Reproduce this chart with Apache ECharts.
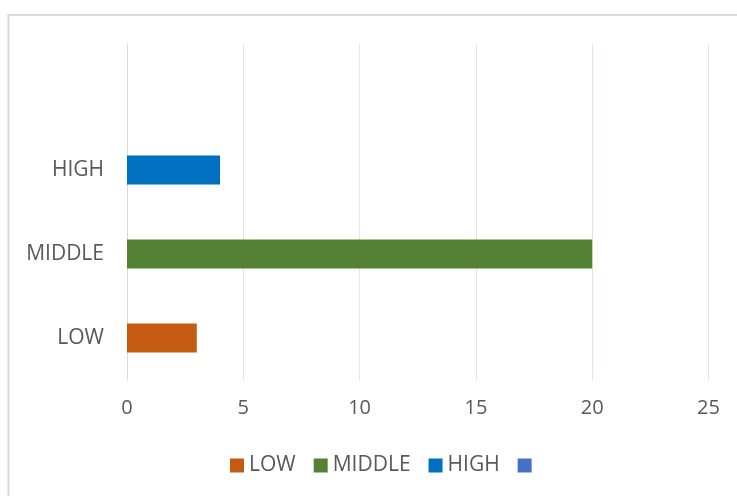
<!DOCTYPE html>
<html>
<head>
<meta charset="utf-8">
<script src="https://cdn.jsdelivr.net/npm/echarts@6/dist/echarts.min.js"></script>
<style>
  html, body { margin: 0; padding: 0; background: #fff; }
  #chart { width: 737px; height: 496px; }
</style>
</head>
<body>
<div id="chart"></div>
<script>
const categories = ['LOW', 'MIDDLE', 'HIGH', '']
const seriesNames = ['LOW', 'MIDDLE', 'HIGH', ' ']
const values = [3, 20, 4, null]
const colors = ['#C55A11', '#548235', '#0070C0', '#4472C4']
const xTicks = [0, 25, 5] // min, max, interval

const textColor = '#595959'
const font = 'Open Sans'

const chart = echarts.init(document.getElementById('chart'))

// each series only fills its own category row
const series = seriesNames.map((name, i) => ({
  name,
  type: 'bar',
  stack: 'total',
  barWidth: 29,
  itemStyle: { color: colors[i] },
  data: categories.map((c, j) => (j === i && values[i] != null ? values[i] : '-')),
}))

chart.setOption({
  animation: false,
  textStyle: { fontFamily: font },
  graphic: [
    {
      type: 'rect',
      shape: { x: 8.5, y: 15, width: 760, height: 520 },
      style: { fill: 'none', stroke: '#D9D9D9', lineWidth: 2 },
    },
  ],
  grid: {
    left: 127,
    right: 28.5,
    top: 44,
    bottom: 116,
  },
  legend: {
    data: seriesNames,
    left: 225,
    top: 450,
    itemWidth: 14,
    itemHeight: 14,
    itemGap: 18,
    icon: 'rect',
    textStyle: { fontFamily: font, fontSize: 21, color: textColor },
  },
  xAxis: {
    type: 'value',
    min: xTicks[0],
    max: xTicks[1],
    interval: xTicks[2],
    axisLine: { show: false },
    axisTick: { show: false },
    axisLabel: { color: textColor, fontSize: 20, fontFamily: font, margin: 18 },
    splitLine: { lineStyle: { color: '#F9DFD0', width: 1 } },
  },
  yAxis: {
    type: 'category',
    data: categories,
    axisLine: { lineStyle: { color: '#D9D9D9', width: 1 } },
    axisTick: { show: false },
    axisLabel: { color: textColor, fontSize: 21, fontFamily: font, margin: 23 },
  },
  series,
})
</script>
</body>
</html>
